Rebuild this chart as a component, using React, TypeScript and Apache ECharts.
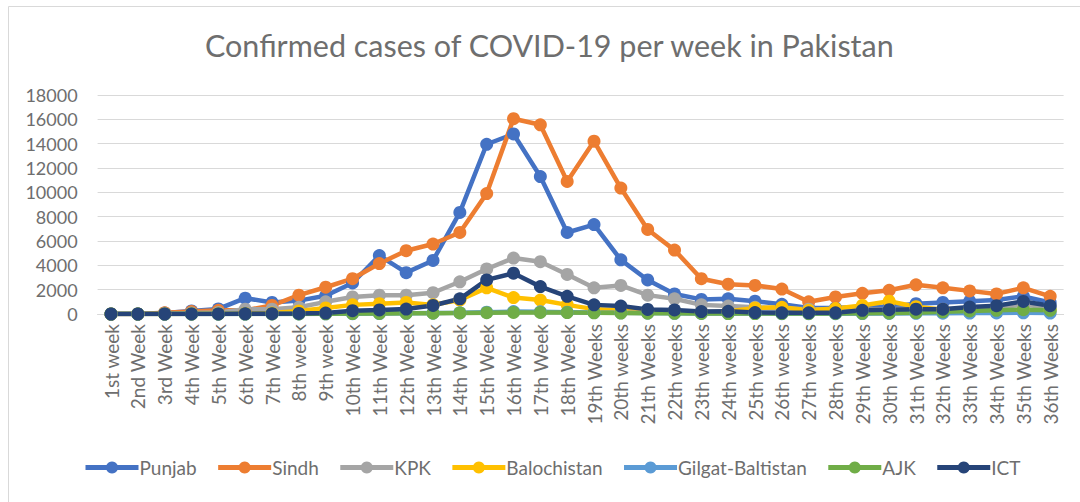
import React, { useEffect, useRef } from "react";
import * as echarts from "echarts";

const weeks = [
  "1st week", "2nd Week", "3rd Week", "4th Week", "5th Week", "6th Week", "7th Week", "8th week", "9th week",
  "10th Week", "11th Week", "12th Week", "13th Week", "14th Week", "15th Week", "16th Week", "17th Week", "18th Week",
  "19th Weeks", "20th weeks", "21th Weeks", "22th weeks", "23th weeks", "24th weeks", "25th weeks", "26th weeks",
  "27th weeks", "28th weeks", "29th Weeks", "30th Weeks", "31th Weeks", "32th Weeks", "33th Weeks", "34th Weeks",
  "35th Weeks", "36th Weeks",
];

const punjab = [0, 10, 80, 250, 420, 1300, 950, 1100, 1500, 2550, 4800, 3400, 4400, 8350, 13950, 14800, 11300, 6700, 7350, 4450, 2800, 1650, 1200, 1250, 1050, 800, 500, 500, 600, 600, 850, 950, 1050, 1150, 1450, 950];
const sindh = [0, 5, 100, 200, 300, 300, 700, 1550, 2200, 2900, 4150, 5200, 5750, 6700, 9900, 16050, 15550, 10900, 14200, 10350, 6950, 5250, 2900, 2450, 2350, 2050, 1000, 1400, 1700, 1950, 2400, 2150, 1900, 1650, 2150, 1450];
const kpk = [0, 5, 30, 80, 120, 400, 400, 550, 1000, 1400, 1550, 1550, 1750, 2650, 3700, 4600, 4300, 3250, 2150, 2350, 1550, 1250, 750, 650, 550, 450, 400, 400, 350, 400, 450, 400, 500, 550, 750, 550];
const balochistan = [0, 0, 10, 20, 30, 50, 80, 250, 500, 750, 850, 950, 750, 1150, 2150, 1350, 1150, 750, 400, 300, 250, 200, 150, 200, 500, 550, 300, 450, 700, 1050, 600, 350, 250, 250, 300, 300];
const gilgat = [0, 0, 0, 0, 0, 0, 5, 10, 20, 30, 40, 60, 80, 100, 150, 200, 180, 150, 120, 100, 80, 60, 50, 40, 40, 30, 30, 30, 40, 50, 60, 70, 80, 90, 100, 80];
const ajk = [0, 0, 0, 0, 0, 0, 5, 10, 20, 40, 50, 60, 70, 90, 110, 130, 130, 120, 100, 80, 70, 60, 50, 40, 40, 40, 40, 50, 60, 80, 110, 180, 250, 300, 350, 300];
const ict = [0, 0, 0, 5, 10, 20, 30, 50, 80, 270, 330, 410, 700, 1250, 2800, 3350, 2250, 1450, 750, 650, 380, 330, 200, 220, 120, 100, 100, 100, 300, 350, 400, 400, 570, 680, 1030, 680];

const seriesNames = ["Punjab", "Sindh", "KPK", "Balochistan", "Gilgat-Baltistan", "AJK", "ICT"];
const seriesData = [punjab, sindh, kpk, balochistan, gilgat, ajk, ict];
const seriesColors = ["#4472C4", "#ED7D31", "#A5A5A5", "#FFC000", "#5B9BD5", "#70AD47", "#264478"];

const FONT = "Lato, 'Open Sans', sans-serif";

export default function App() {
  const ref = useRef<HTMLDivElement>(null);
  useEffect(() => {
    if (!ref.current) return;
    const chart = echarts.init(ref.current, undefined, { renderer: "svg" });
    chart.setOption({
      animation: false,
      backgroundColor: "#ffffff",
      textStyle: { fontFamily: FONT },
      title: {
        text: "Confirmed cases of COVID-19 per week in Pakistan",
        left: 200,
        top: 24,
        textStyle: { fontFamily: FONT, fontSize: 30.5, fontWeight: "normal", color: "#6e6e6e" },
      },
      graphic: [
        {
          type: "rect",
          shape: { x: 8.5, y: 6.5, width: 1100, height: 520 },
          style: { fill: "none", stroke: "#d9d9d9", lineWidth: 1 },
          silent: true,
          z: -10,
        },
      ],
      legend: {
        left: 78,
        top: 453,
        itemGap: 19,
        itemWidth: 53,
        itemHeight: 15,
        lineStyle: { width: 5 },
        textStyle: { fontFamily: FONT, fontSize: 19, color: "#6e6e6e", padding: [0, 0, 0, -4] },
        data: seriesNames,
      },
      grid: { left: 97.6, right: 16.4, top: 95, bottom: 188, containLabel: false },
      xAxis: {
        type: "category",
        data: weeks,
        boundaryGap: true,
        axisLine: { show: true, lineStyle: { color: "#d9d9d9", width: 1 } },
        axisTick: { show: false },
        axisLabel: {
          rotate: 90,
          interval: 0,
          margin: 10,
          fontFamily: FONT,
          fontSize: 19,
          color: "#6e6e6e",
        },
      },
      yAxis: {
        type: "value",
        min: 0,
        max: 18000,
        interval: 2000,
        axisLine: { show: false },
        axisTick: { show: false },
        splitLine: { lineStyle: { color: "#d9d9d9", width: 1.2 } },
        axisLabel: {
          fontFamily: FONT,
          fontSize: 18,
          color: "#6e6e6e",
          margin: 20,
          formatter: (v: number) => String(v),
        },
      },
      series: seriesNames.map((name, i) => ({
        name,
        type: "line",
        data: seriesData[i],
        symbol: "circle",
        symbolSize: 13,
        showSymbol: true,
        color: seriesColors[i],
        lineStyle: { width: 4.5, color: seriesColors[i] },
        itemStyle: { color: seriesColors[i] },
        emphasis: { disabled: true },
      })),
    });
    return () => chart.dispose();
  }, []);
  return (
    <div
      ref={ref}
      style={{ position: "fixed", left: 0, top: 0, width: 1080, height: 502 }}
    />
  );
}
